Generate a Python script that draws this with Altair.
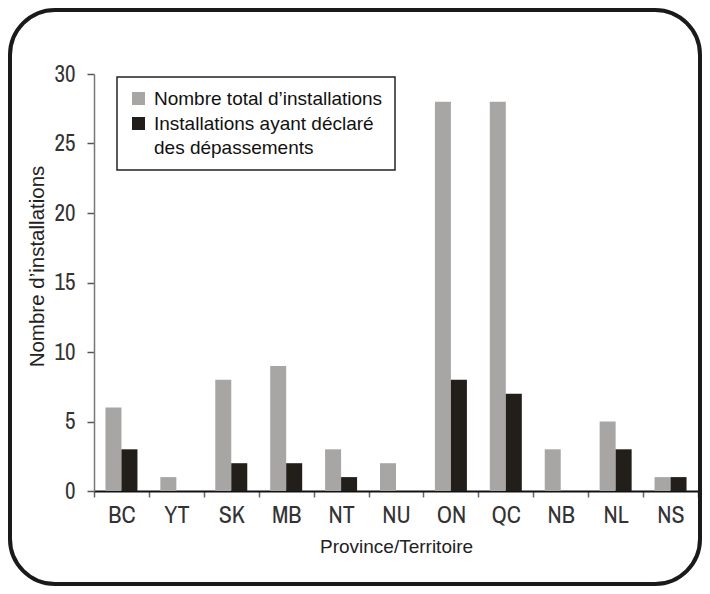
import altair as alt
import pandas as pd

provinces = ["BC", "YT", "SK", "MB", "NT", "NU", "ON", "QC", "NB", "NL", "NS"]
total = [6, 1, 8, 9, 3, 2, 28, 28, 3, 5, 1]
exceed = [3, 0, 2, 2, 1, 0, 8, 7, 0, 3, 1]
series = ["Nombre total d\u2019installations", "Installations ayant d\u00e9clar\u00e9 des d\u00e9passements"]
colors = ["#a7a6a4", "#221f1b"]

rows = []
for p, t, e in zip(provinces, total, exceed):
    rows.append({"prov": p, "serie": series[0], "value": t})
    rows.append({"prov": p, "serie": series[1], "value": e})
df = pd.DataFrame(rows)

narrow_font = "Archivo Narrow"
reg_font = "Liberation Sans"

label_expr = ("datum.label == '" + series[1] + "' ? ['Installations ayant d\u00e9clar\u00e9', 'des d\u00e9passements'] : datum.label")

bars = alt.Chart(df).mark_bar().encode(
    x=alt.X("prov:N", sort=provinces,
            scale=alt.Scale(paddingInner=0, paddingOuter=0),
            axis=alt.Axis(title="Province/Territoire", labelAngle=0, tickBand="extent",
                          tickSize=6, tickColor="#666", tickWidth=1.5,
                          domainColor="#111", domainWidth=2,
                          labelFont=narrow_font, labelFontSize=24, labelColor="#333",
                          labelPadding=6, titleFont=reg_font, titleFontSize=19,
                          titleFontWeight="normal", titleColor="#222", titlePadding=10)),
    xOffset=alt.XOffset("serie:N", sort=series,
                        scale=alt.Scale(paddingInner=0, paddingOuter=0.716)),
    y=alt.Y("value:Q", scale=alt.Scale(domain=[0, 30]),
            axis=alt.Axis(title="Nombre d\u2019installations", values=[0, 5, 10, 15, 20, 25, 30],
                          grid=False, tickSize=7, tickColor="#555", tickWidth=1.5,
                          domainColor="#777", domainWidth=1.5,
                          labelFont=narrow_font, labelFontSize=23, labelColor="#333",
                          labelPadding=12, titleFont=reg_font, titleFontSize=20.5,
                          titleFontWeight="normal", titleColor="#222", titlePadding=7,
                          titleY=192)),
    color=alt.Color("serie:N", scale=alt.Scale(domain=series, range=colors),
                    legend=alt.Legend(orient="none", legendX=23, legendY=3, title=None,
                                      strokeColor="#222", padding=12,
                                      symbolType="square", symbolSize=169,
                                      symbolStrokeWidth=0, labelOffset=6,
                                      labelFont=reg_font, labelFontSize=19,
                                      labelColor="#111", labelLimit=400,
                                      rowPadding=5, labelExpr=label_expr)),
)

frame = alt.Chart(pd.DataFrame({"k": [0]})).mark_rect(
    fillOpacity=0, stroke="#1a1a1a", strokeWidth=4, cornerRadius=45
).encode(x=alt.value(-84), x2=alt.value(606), y=alt.value(-64), y2=alt.value(510))

chart = alt.layer(bars, frame).properties(
    width=604, height=417,
    autosize=alt.AutoSizeParams(type="none"),
    padding={"left": 86, "top": 66, "right": 4, "bottom": 95},
).configure(
    style={"guide-label": {"lineHeight": 24}}
).configure_view(stroke=None).configure_legend(strokeWidth=1.5)

chart.save("out.html", embed_options={"renderer": "svg", "actions": False})
